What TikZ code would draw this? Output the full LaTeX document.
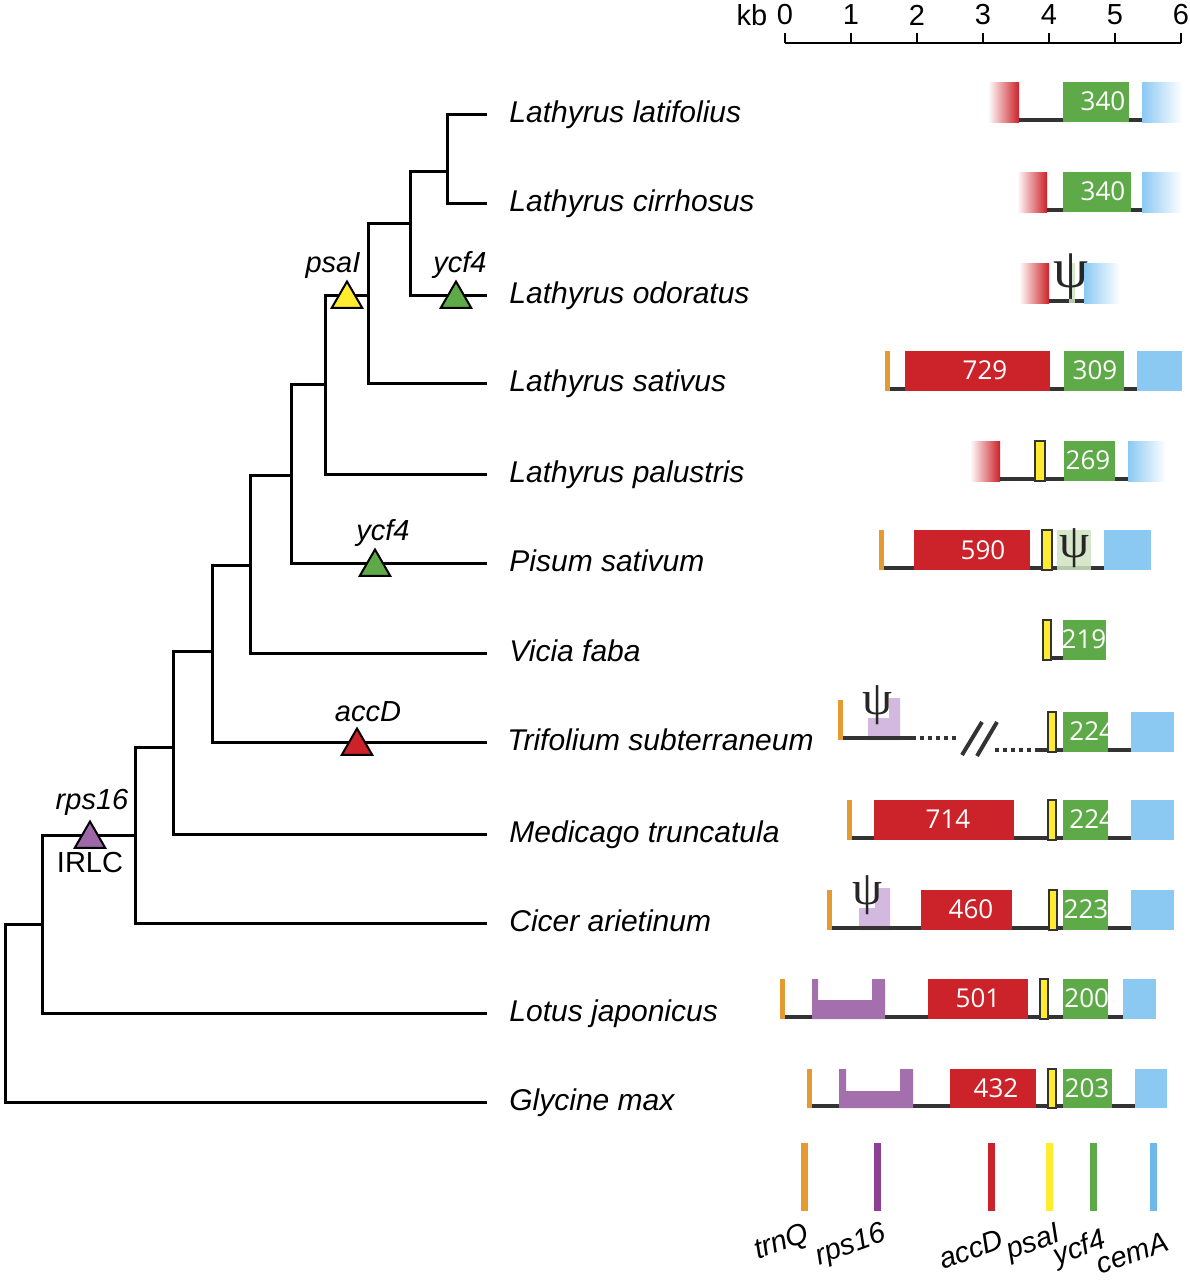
\documentclass[tikz,border=0pt]{standalone}
\usepackage{fontspec}
\setmainfont{Liberation Sans}
\newfontfamily\numfont{Open Sans}
\newfontfamily\psifont{Liberation Serif}
\usetikzlibrary{positioning,shapes.geometric}

\definecolor{trnqcol}{HTML}{E59A32}
\definecolor{rpscol}{HTML}{A46FAD}
\definecolor{rpsleg}{HTML}{8C3F93}
\definecolor{rpstri}{HTML}{9D68A8}
\definecolor{accdcol}{HTML}{CC2229}
\definecolor{psaicol}{HTML}{FFEC2E}
\definecolor{ycfcol}{HTML}{5FAA48}
\definecolor{cemacol}{HTML}{8BC9F3}
\definecolor{cemaleg}{HTML}{6FB8EA}
\definecolor{psirps}{HTML}{D3B8DF}
\definecolor{psiycf}{HTML}{CFE3C2}
\definecolor{trackcol}{HTML}{333333}

\begin{document}
\begin{tikzpicture}[x=0.5pt, y=-0.5pt,
  branch/.style={line width=1.5pt},
  species/.style={anchor=west, inner sep=0pt, text height=11pt, text depth=3pt,
    font=\fontsize{15}{18}\selectfont\itshape},
  genelab/.style={inner sep=0pt, font=\fontsize{14.5}{17}\selectfont\itshape},
  losstri/.style={draw, line width=1pt, regular polygon, regular polygon sides=3,
    minimum size=17.5pt, inner sep=0pt, yshift=-2pt},
  kbnum/.style={inner sep=0pt, text=white, font=\numfont\fontsize{13}{15}\selectfont},
  psisym/.style={inner sep=0pt, text=black!85, font=\psifont\fontsize{24}{25}\selectfont},
  baseline/.style={fill=trackcol},
  trnqbar/.style={fill=trnqcol},
  rpsbox/.style={fill=rpscol},
  accdbox/.style={fill=accdcol},
  psaibox/.style={fill=psaicol, draw=trackcol, line width=0.8pt},
  ycfbox/.style={fill=ycfcol},
  cemabox/.style={fill=cemacol},
  redfade/.style={left color=white, right color=accdcol},
  bluefade/.style={left color=cemacol, right color=white},
  dots/.style={draw=trackcol, line width=2pt, dash pattern=on 2pt off 2pt},
  legbar/.style={line width=3.5pt},
  leglab/.style={inner sep=0pt, rotate=20, font=\fontsize{14.5}{17}\selectfont\itshape},
  ]
  \useasboundingbox (0,0) rectangle (1189,1280);

  % leaves
  \coordinate (l1) at (487,114);
  \coordinate (l2) at (487,203);
  \coordinate (l3) at (487,295);
  \coordinate (l4) at (487,383);
  \coordinate (l5) at (487,474);
  \coordinate (l6) at (487,563);
  \coordinate (l7) at (487,653);
  \coordinate (l8) at (487,742);
  \coordinate (l9) at (487,834);
  \coordinate (l10) at (487,923);
  \coordinate (l11) at (487,1013);
  \coordinate (l12) at (487,1102);

  % inner nodes
  \coordinate (n1) at (447,171);
  \coordinate (n2) at (410,223);
  \coordinate (n3) at (368,295);
  \coordinate (n4) at (325,384);
  \coordinate (n5) at (291,475);
  \coordinate (n6) at (250,565);
  \coordinate (n7) at (212,651);
  \coordinate (n8) at (173,747);
  \coordinate (n9) at (135,835);
  \coordinate (n10) at (42,924);
  \coordinate (root) at (5,1013);

  \draw[branch] (l1) -| (n1) |- (l2);
  \draw[branch] (n1) -| (n2) |- (l3);
  \draw[branch] (n2) -| (n3) |- (l4);
  \draw[branch] (n3) -| (n4) |- (l5);
  \draw[branch] (n4) -| (n5) |- (l6);
  \draw[branch] (n5) -| (n6) |- (l7);
  \draw[branch] (n6) -| (n7) |- (l8);
  \draw[branch] (n7) -| (n8) |- (l9);
  \draw[branch] (n8) -| (n9) |- (l10);
  \draw[branch] (n9) -| (n10) |- (l11);
  \draw[branch] (n10) -| (root) |- (l12);

  % gene losses on the tree
  \node[losstri, fill=psaicol] (tpsai) at (347,295) {};
  \node[losstri, fill=ycfcol] (tycfa) at (456,295) {};
  \node[losstri, fill=ycfcol] (tycfb) at (375,563) {};
  \node[losstri, fill=accdcol] (taccd) at (357,742) {};
  \node[losstri, fill=rpstri] (trps) at (90,835) {};
  \node[genelab] (lpsai) at (333,266) {psaI};
  \node[genelab] (lycfa) at (460,265) {ycf4};
  \node[genelab] (lycfb) at (383,533) {ycf4};
  \node[genelab] (laccd) at (368,712) {accD};
  \node[genelab] (lrps) at (92,802) {rps16};
  \node[genelab, font=\fontsize{14.5}{17}\selectfont] (irlc) at (90,863) {IRLC};

  \node[species] (latifolius) at (509,114) {Lathyrus latifolius};
  \node[species] (cirrhosus) at (509,203) {Lathyrus cirrhosus};
  \node[species] (odoratus) at (509,295) {Lathyrus odoratus};
  \node[species] (sativus) at (509,383) {Lathyrus sativus};
  \node[species] (palustris) at (509,474) {Lathyrus palustris};
  \node[species] (pisum) at (509,563) {Pisum sativum};
  \node[species] (vicia) at (509,653) {Vicia faba};
  \node[species] (trifolium) at (507,742) {Trifolium subterraneum};
  \node[species] (medicago) at (509,834) {Medicago truncatula};
  \node[species] (cicer) at (509,923) {Cicer arietinum};
  \node[species] (lotus) at (509,1013) {Lotus japonicus};
  \node[species] (glycine) at (509,1102) {Glycine max};

  % scale
  \draw[line width=0.6pt] (785,43) -- (1181,43);
  \foreach \k in {0,...,6} {
    \draw[line width=0.6pt] (785+66*\k,33) -- (785+66*\k,43);
    \node[inner sep=0pt, font=\fontsize{14.5}{17}\selectfont] (tick\k) at (785+66*\k,15) {\k};
  }
  \node[inner sep=0pt, font=\fontsize{14.5}{17}\selectfont] (kb) at (752,15) {kb};

  % Lathyrus latifolius
  \shade[redfade] (988,82) rectangle (1019,122);
  \fill[baseline] (1019,118) rectangle (1142,122);
  \fill[ycfbox] (1063,82) rectangle (1129,122);
  \node[kbnum] (v340a) at (1103,101) {340};
  \shade[bluefade] (1142,82) rectangle (1182,122);

  % Lathyrus cirrhosus
  \shade[redfade] (1017,172) rectangle (1047,212);
  \fill[baseline] (1047,208) rectangle (1142,212);
  \fill[ycfbox] (1063,172) rectangle (1131,212);
  \node[kbnum] (v340b) at (1103,191) {340};
  \shade[bluefade] (1142,172) rectangle (1182,212);

  % Lathyrus odoratus
  \shade[redfade] (1019,263) rectangle (1049,303);
  \fill[baseline] (1049,299) rectangle (1084,303);
  \fill[psiycf, opacity=0.85] (1069,263) rectangle (1075,303);
  \node[psisym, font=\psifont\fontsize{28}{29}\selectfont] (psi3) at (1071,277) {ψ};
  \shade[bluefade] (1084,263) rectangle (1120,303);

  % Lathyrus sativus
  \fill[trnqbar] (885,351) rectangle (890,391);
  \fill[baseline] (890,387) rectangle (1137,391);
  \fill[accdbox] (905,351) rectangle (1050,391);
  \node[kbnum] (v729) at (985,370) {729};
  \fill[ycfbox] (1064,351) rectangle (1124,391);
  \node[kbnum] (v309) at (1095,370) {309};
  \fill[cemabox] (1137,351) rectangle (1182,391);

  % Lathyrus palustris
  \shade[redfade] (970,441) rectangle (1000,481);
  \fill[baseline] (1000,477) rectangle (1128,481);
  \filldraw[psaibox] (1035,441) rectangle (1045,481);
  \fill[ycfbox] (1064,441) rectangle (1115,481);
  \node[kbnum] (v269) at (1088,460) {269};
  \shade[bluefade] (1128,441) rectangle (1166,481);

  % Pisum sativum
  \fill[trnqbar] (879,530) rectangle (884,570);
  \fill[baseline] (884,566) rectangle (1104,570);
  \fill[accdbox] (914,530) rectangle (1030,570);
  \node[kbnum] (v590) at (983,550) {590};
  \filldraw[psaibox] (1042,530) rectangle (1052,570);
  \fill[psiycf, opacity=0.85] (1057,530) rectangle (1091,570);
  \node[psisym] (psi6) at (1075,548) {ψ};
  \fill[cemabox] (1104,530) rectangle (1151,570);

  % Vicia faba
  \filldraw[psaibox] (1043,620) rectangle (1051,660);
  \fill[baseline] (1051,656) rectangle (1063,660);
  \fill[ycfbox] (1063,620) rectangle (1106,660);
  \node[kbnum] (v219) at (1084,639) {219};

  % Trifolium subterraneum
  \fill[trnqbar] (838,700) rectangle (843,740);
  \fill[rpsbox, fill=psirps] (868,718) rectangle (900,740) (889,698) rectangle (900,718);
  \fill[baseline] (843,736) rectangle (912,740);
  \node[psisym] (psi8) at (878,705) {ψ};
  \draw[dots] (912,738) -- (956,738);
  \draw[line width=2pt, trackcol] (962,755) -- (982,722) (977,756) -- (997,722);
  \draw[dots] (995,750) -- (1037,750);
  \fill[baseline] (1037,748) rectangle (1131,752);
  \filldraw[psaibox] (1048,712) rectangle (1056,752);
  \fill[ycfbox] (1063,712) rectangle (1108,752);
  \begin{scope}
    \clip (1063,712) rectangle (1108,752);
    \node[kbnum, anchor=west] (v224a) at (1069,731) {224};
  \end{scope}
  \fill[cemabox] (1131,712) rectangle (1174,752);

  % Medicago truncatula
  \fill[trnqbar] (847,800) rectangle (852,840);
  \fill[baseline] (852,836) rectangle (1131,840);
  \fill[accdbox] (874,800) rectangle (1014,840);
  \node[kbnum] (v714) at (948,819) {714};
  \filldraw[psaibox] (1048,800) rectangle (1056,840);
  \fill[ycfbox] (1063,800) rectangle (1108,840);
  \begin{scope}
    \clip (1063,800) rectangle (1108,840);
    \node[kbnum, anchor=west] (v224b) at (1069,819) {224};
  \end{scope}
  \fill[cemabox] (1131,800) rectangle (1174,840);

  % Cicer arietinum
  \fill[trnqbar] (827,890) rectangle (832,930);
  \fill[rpsbox, fill=psirps] (859,908) rectangle (890,930) (875,888) rectangle (890,908);
  \fill[baseline] (832,926) rectangle (1131,930);
  \node[psisym] (psi10) at (868,895) {ψ};
  \fill[accdbox] (921,890) rectangle (1012,930);
  \node[kbnum] (v460) at (971,909) {460};
  \filldraw[psaibox] (1049,890) rectangle (1057,930);
  \fill[ycfbox] (1063,890) rectangle (1108,930);
  \node[kbnum] (v223) at (1086,909) {223};
  \fill[cemabox] (1131,890) rectangle (1174,930);

  % Lotus japonicus
  \fill[trnqbar] (780,979) rectangle (785,1019);
  \fill[baseline] (785,1015) rectangle (1123,1019);
  \fill[rpsbox] (812,979) -- (818,979) -- (818,1000) -- (872,1000) -- (872,979)
    -- (885,979) -- (885,1019) -- (812,1019) -- cycle;
  \fill[accdbox] (928,979) rectangle (1028,1019);
  \node[kbnum] (v501) at (978,998) {501};
  \filldraw[psaibox] (1040,979) rectangle (1048,1019);
  \fill[ycfbox] (1063,979) rectangle (1108,1019);
  \begin{scope}
    \clip (1063,979) rectangle (1108,1019);
    \node[kbnum, anchor=west] (v200) at (1064,998) {200};
  \end{scope}
  \fill[cemabox] (1123,979) rectangle (1156,1019);

  % Glycine max
  \fill[trnqbar] (807,1069) rectangle (812,1108);
  \fill[baseline] (812,1104) rectangle (1167,1108);
  \fill[rpsbox] (839,1069) -- (846,1069) -- (846,1091) -- (900,1091) -- (900,1069)
    -- (913,1069) -- (913,1108) -- (839,1108) -- cycle;
  \fill[accdbox] (950,1069) rectangle (1036,1108);
  \node[kbnum] (v432) at (996,1088) {432};
  \filldraw[psaibox] (1048,1069) rectangle (1056,1108);
  \fill[ycfbox] (1063,1069) rectangle (1112,1108);
  \node[kbnum] (v203) at (1087,1088) {203};
  \fill[cemabox] (1135,1069) rectangle (1167,1108);

  % legend
  \draw[legbar, trnqcol] (804,1143) -- (804,1211);
  \draw[legbar, rpsleg] (877,1143) -- (877,1211);
  \draw[legbar, accdcol] (991,1143) -- (991,1211);
  \draw[legbar, psaicol] (1049,1143) -- (1049,1211);
  \draw[legbar, ycfcol] (1093,1143) -- (1093,1211);
  \draw[legbar, cemaleg] (1153,1143) -- (1153,1211);
  \node[leglab] (gtrnq) at (782,1243) {trnQ};
  \node[leglab] (grps) at (851,1246) {rps16};
  \node[leglab] (gaccd) at (971,1249) {accD};
  \node[leglab] (gpsai) at (1034,1244) {psaI};
  \node[leglab] (gycf) at (1080,1249) {ycf4};
  \node[leglab] (gcema) at (1132,1253) {cemA};
\end{tikzpicture}
\end{document}
